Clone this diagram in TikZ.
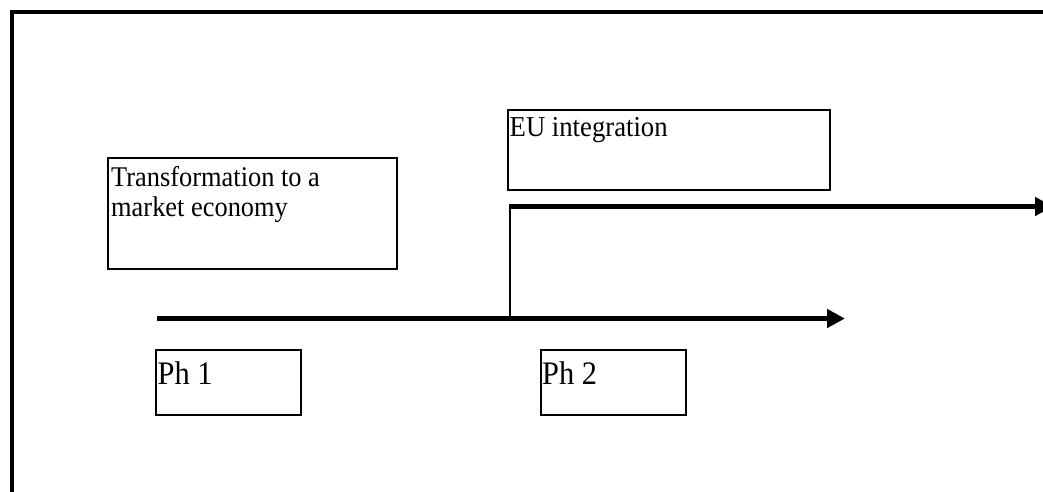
\documentclass[tikz,border=0pt]{standalone}
\usepackage{graphicx}
\usepackage{fontspec}
\setmainfont{Liberation Serif}
\usetikzlibrary{arrows.meta}
\newcommand{\tallt}[1]{\scalebox{1}[1.08]{#1}}
\begin{document}
\begin{tikzpicture}[x=1pt,y=-1pt,
  box/.style={draw=black, line width=2pt, inner sep=0pt},
  lbl/.style={inner sep=0pt, anchor=base west, align=left},
  thick arrow/.style={line width=5pt, -{Triangle[length=18pt,width=18pt]}},
  thin line/.style={line width=2pt}]
\useasboundingbox (0,0) rectangle (1043,492);
\fill[white] (0,0) rectangle (1043,492);
% outer frame
\draw[line width=4pt] (1100,12.5) -- (11.5,12.5) -- (11.5,540);
% boxes
\node[box, minimum width=289pt, minimum height=111pt] (trbox) at (252.5,213.5) {};
\node[box, minimum width=322pt, minimum height=80pt] (eubox) at (669,150) {};
\node[box, minimum width=145pt, minimum height=65pt] (ph1box) at (228.5,382.5) {};
\node[box, minimum width=145pt, minimum height=65pt] (ph2box) at (613.5,382.5) {};
% texts
\node[lbl, font=\fontsize{26.4}{30}\selectfont] (trtext) at (111,216) {\tallt{Transformation to a}\\\tallt{market economy}};
\node[lbl, font=\fontsize{26.7}{30}\selectfont] (eutext) at (509.5,136) {\tallt{EU integration}};
\node[lbl, font=\fontsize{30.4}{33}\selectfont] (ph1text) at (157.5,384.5) {\tallt{Ph 1}};
\node[lbl, font=\fontsize{30.4}{33}\selectfont] (ph2text) at (542,384.5) {\tallt{Ph 2}};
% arrows
\coordinate (lstart) at (157,318.5);
\coordinate (lend) at (845,318.5);
\coordinate (branch) at (510,318.5);
\coordinate (corner) at (510,206.5);
\coordinate (uend) at (1053,206.5);
\draw[thick arrow] (lstart) -- (lend);
\draw[thin line] (branch) -- (corner);
\draw[thick arrow] ([xshift=-1pt]corner) -- (uend);
\end{tikzpicture}
\end{document}
